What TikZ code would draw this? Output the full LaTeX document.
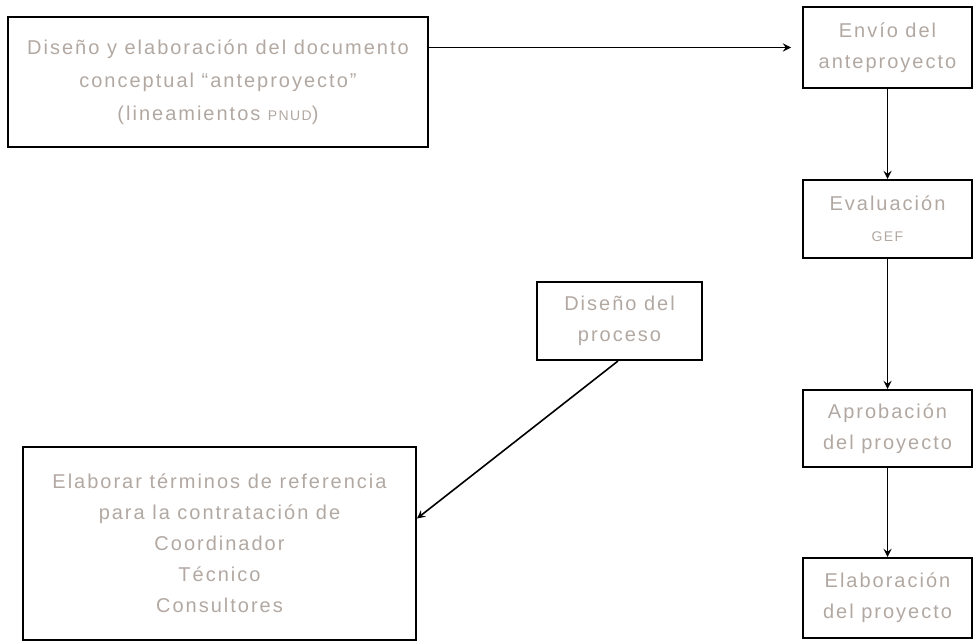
\documentclass[tikz,border=0pt]{standalone}
\usepackage{fontspec}
\setmainfont{Liberation Sans}[LetterSpace=10]
\definecolor{txtgray}{RGB}{178,168,162}
\tikzset{
    box/.style={draw=black, line width=1pt, inner sep=0pt, align=center,
        text=txtgray, font={\fontsize{10pt}{15.5pt}\selectfont}},
    conn/.style={draw=black, line width=0.8pt, -stealth}
}
\begin{document}
\begin{tikzpicture}[x=0.5pt,y=-0.5pt]
\useasboundingbox (0,0) rectangle (975,642);
%boxes
\node[box, minimum width=210pt, minimum height=65pt, font={\fontsize{10pt}{16.5pt}\selectfont}] (antepro) at (218,82)
    {Diseño y elaboración del documento\\conceptual “anteproyecto”\\(lineamientos {\scriptsize PNUD})};
\node[box, minimum width=84.5pt, minimum height=40.5pt] (envio) at (887.5,47.5) {Envío del\\anteproyecto};
\node[box, minimum width=84.5pt, minimum height=39pt] (evalua) at (887.5,219) {Evaluación\\{\scriptsize GEF}};
\node[box, minimum width=84.5pt, minimum height=38.5pt] (aprueba) at (887.5,428.5) {Aprobación\\del proyecto};
\node[box, minimum width=84.5pt, minimum height=40pt] (elabora) at (887.5,598) {Elaboración\\del proyecto};
\node[box, minimum width=82.5pt, minimum height=39pt] (proceso) at (619.5,321) {Diseño del\\proceso};
\node[box, minimum width=196.5pt, minimum height=96.5pt] (terminos) at (219.5,543.5)
    {Elaborar términos de referencia\\para la contratación de\\Coordinador\\Técnico\\Consultores};
%arrows
\draw[conn, shorten >=5.5pt] (antepro.east |- envio.west) -- (envio.west);
\foreach \a/\b in {envio/evalua, evalua/aprueba, aprueba/elabora}{
    \draw[conn] (\a.south) -- (\b.north);
}
\draw[conn] ([xshift=-0.75pt]proceso.south) -- ([yshift=12.5pt]terminos.east);
\end{tikzpicture}
\end{document}
